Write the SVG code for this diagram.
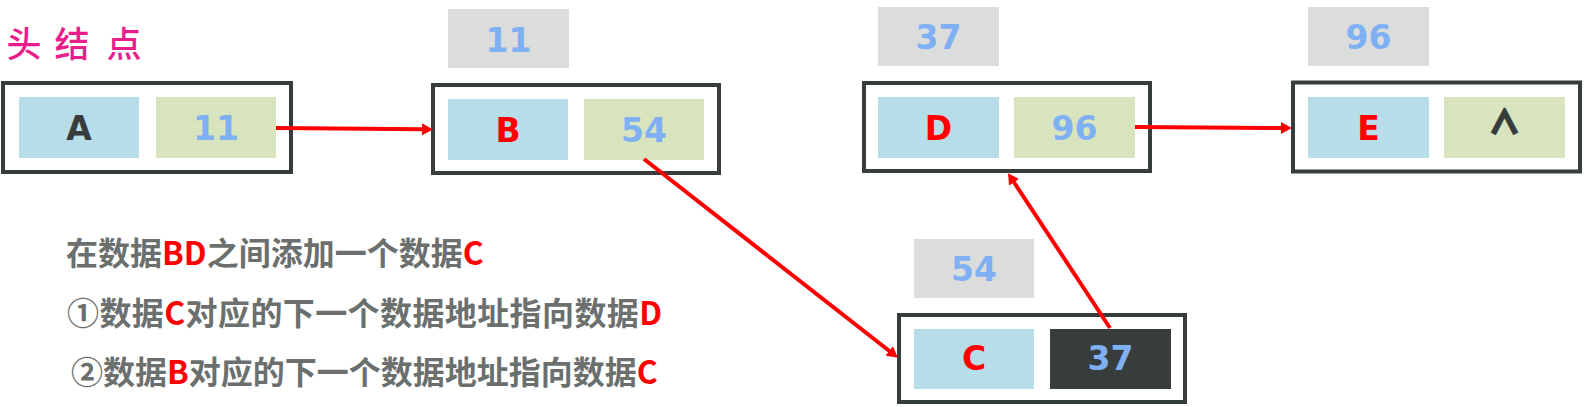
<svg xmlns="http://www.w3.org/2000/svg" width="1584" height="407" viewBox="0 0 1584 407">
<style>
.box{fill:#fff;stroke:#373c3c;stroke-width:4}
.data{fill:#b7dde8}
.ptr{fill:#d7e4bd}
.lbl{fill:#dbdcdc}
.dark{fill:#373c3c}
.t{font-family:"DejaVu Sans",sans-serif;font-weight:bold;font-size:33px;text-anchor:middle}
.num{fill:#7fb0f3}
.red{fill:#ff0000}
.ink{fill:#373c3c}
.nul{font-family:"Noto Sans CJK SC",sans-serif;font-weight:bold;font-size:31px;text-anchor:middle;fill:#373c3c;stroke:#373c3c;stroke-width:2.5}
.note{font-family:"Noto Sans CJK SC","Noto Sans",sans-serif;font-weight:bold;font-size:32px;fill:#6b706e}
.head{font-family:"Noto Sans CJK SC",sans-serif;font-weight:500;font-size:35px;fill:#e91e8c;text-anchor:middle}
.arrow{stroke:#ff0000;stroke-width:4;fill:none;marker-end:url(#ah)}
</style>
<defs>
<marker id="ah" markerUnits="userSpaceOnUse" markerWidth="12" markerHeight="12" refX="1" refY="6" orient="auto">
<path d="M0,0 L11,6 L0,12 z" fill="#ff0000"/>
</marker>
</defs>
<rect width="1584" height="407" fill="#fff"/>

<g id="head-label">
<text class="head" x="24 72 124" y="57">头结点</text>
</g>

<g id="node-A">
<rect class="box" x="3" y="83" width="288" height="89"/>
<rect class="data" x="19" y="97" width="120" height="61"/>
<rect class="ptr" x="156" y="97" width="120" height="61"/>
<text class="t ink" x="79" y="140">A</text>
<text class="t num" x="216" y="140">11</text>
</g>

<g id="node-B">
<rect class="lbl" x="448" y="9" width="121" height="59"/>
<text class="t num" x="508.5" y="52">11</text>
<rect class="box" x="433" y="85" width="286" height="88"/>
<rect class="data" x="448" y="99" width="120" height="61"/>
<rect class="ptr" x="584" y="99" width="120" height="61"/>
<text class="t red" x="508" y="142">B</text>
<text class="t num" x="644" y="142">54</text>
</g>

<g id="node-D">
<rect class="lbl" x="878" y="7" width="121" height="59"/>
<text class="t num" x="938.5" y="49">37</text>
<rect class="box" x="864" y="83" width="286" height="88"/>
<rect class="data" x="878" y="97" width="121" height="61"/>
<rect class="ptr" x="1014" y="97" width="121" height="61"/>
<text class="t red" x="938.5" y="140">D</text>
<text class="t num" x="1074.5" y="140">96</text>
</g>

<g id="node-E">
<rect class="lbl" x="1308" y="7" width="121" height="59"/>
<text class="t num" x="1368.5" y="49">96</text>
<rect class="box" x="1293" y="82.5" width="287" height="89"/>
<rect class="data" x="1308" y="97" width="121" height="61"/>
<rect class="ptr" x="1444" y="97" width="121" height="61"/>
<text class="t red" x="1368.5" y="140">E</text>
<text class="nul" x="1504.5" y="133">∧</text>
</g>

<g id="node-C">
<rect class="lbl" x="914" y="239" width="120" height="59"/>
<text class="t num" x="974" y="281">54</text>
<rect class="box" x="899" y="315" width="286" height="87"/>
<rect class="data" x="914" y="329" width="120" height="60"/>
<rect class="dark" x="1050" y="329" width="121" height="60"/>
<text class="t red" x="974" y="370">C</text>
<text class="t num" x="1110.5" y="370">37</text>
</g>

<g id="connectors">
<line class="arrow" x1="276" y1="128" x2="423" y2="129.3"/>
<line class="arrow" x1="644" y1="159" x2="890" y2="351.5"/>
<line class="arrow" x1="1110" y1="328" x2="1013.5" y2="181.5"/>
<line class="arrow" x1="1135" y1="127" x2="1282" y2="128"/>
</g>

<g id="notes">
<text class="note" x="66" y="265">在数据<tspan class="red">BD</tspan>之间添加一个数据<tspan class="red">C</tspan></text>
<text class="note" x="67" y="325" letter-spacing="0.4">①数据<tspan class="red">C</tspan>对应的下一个数据地址指向数据<tspan class="red">D</tspan></text>
<text class="note" x="71" y="384">②数据<tspan class="red">B</tspan>对应的下一个数据地址指向数据<tspan class="red">C</tspan></text>
</g>
</svg>
